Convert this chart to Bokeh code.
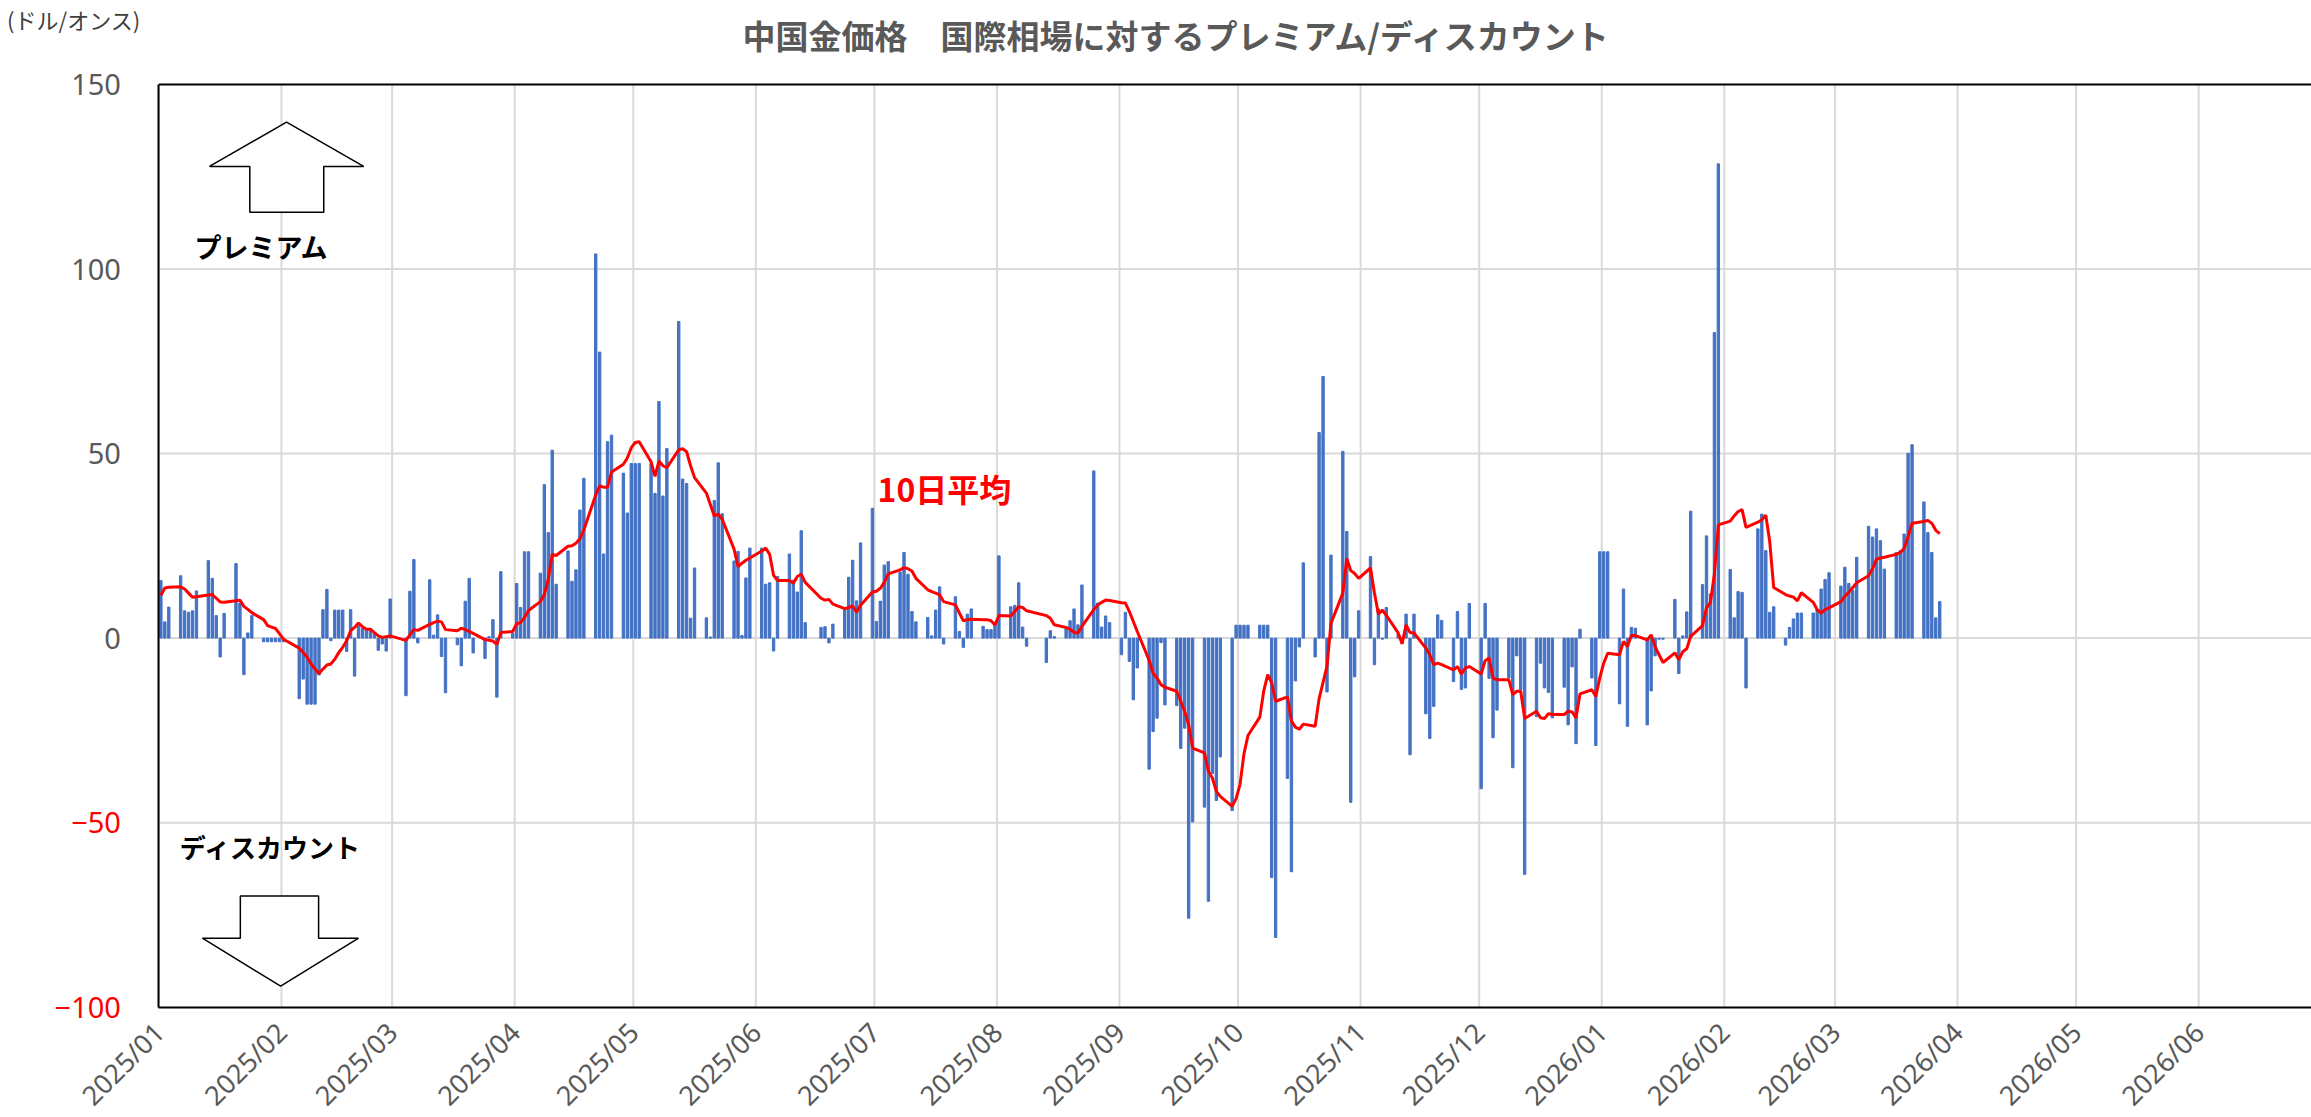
import math
import pandas as pd
from bokeh.plotting import figure
from bokeh.models import (Range1d, FixedTicker, DatetimeTickFormatter, LinearAxis, DatetimeAxis,
                          Label, ColumnDataSource, Grid)
from bokeh.embed import file_html
from bokeh.resources import INLINE

# ---------------- data (USD/oz premium of Shanghai gold vs international price) -------------
jan25_days = [1, 2, 3, 6, 7, 8, 9, 10, 13, 14, 15, 16, 17, 20, 21, 22, 23, 24, 27, 28, 29, 30, 31]
jan25_prem = [15.6, 4.4, 8.4, 16.9, 7.4, 7.0, 7.4, 12.8, 21.0, 16.2, 6.1, -5.1, 6.7, 20.2, 9.5, -9.9, 1.4, 6.1, -1, -1, -1, -1, -1]
jan25_ma = [11.6, 13.6, 13.8, 13.9, 13.3, 12.2, 11.1, 11.2, 11.7, 11.8, 10.8, 9.8, 9.7, 10.1, 10.3, 8.6, 7.8, 6.9, 5.0, 3.4, 3.0, 2.6, 1.2]

feb25_days = [1, 5, 6, 7, 8, 9, 10, 11, 12, 13, 14, 15, 16, 17, 18, 19, 20, 21, 22, 23, 24, 25, 26, 27, 28]
feb25_prem = [-1, -16.4, -11.1, -17.9, -17.9, -17.9, -10.0, 7.7, 13.2, -0.7, 7.6, 7.6, 7.6, -3.6, 7.7, -10.3, 3.3, 2.6, 2.6, 2.6, 1.3, -3.3, -1.6, -3.5, 10.6]
feb25_ma = [-0.3, -2.7, -3.9, -5.2, -7.0, -8.4, -9.6, -8.4, -7.3, -7.0, -5.7, -3.9, -2.5, -0.7, 2.0, 2.9, 4.1, 3.1, 2.4, 2.4, 1.5, 0.6, 0.2, 0.4, 0.6]

mar25_days = [4, 5, 6, 7, 10, 11, 12, 13, 14, 17, 18, 19, 20, 21, 24, 25, 26, 27, 28, 31]
mar25_prem = [-15.6, 12.7, 21.3, -1.3, 15.8, 0.8, 6.3, -5.0, -14.8, -1.8, -7.5, 10.0, 16.2, -4.0, -5.5, 0.4, 5.0, -16.0, 18.0, 1.3]
mar25_ma = [-0.6, 0.9, 2.3, 2.1, 3.7, 4.2, 4.6, 4.4, 2.3, 2.0, 2.7, 2.3, 1.8, 1.3, -0.4, -0.6, -0.8, -1.7, 1.5, 1.8]

apr25_days = [1, 2, 3, 4, 7, 8, 9, 10, 11, 14, 15, 16, 17, 18, 21, 22, 23, 24, 25, 28, 29, 30]
apr25_prem = [14.8, 8.3, 23.4, 23.4, 17.6, 41.6, 28.6, 50.9, 14.6, 23.6, 15.4, 18.5, 34.7, 43.3, 104.1, 77.5, 22.8, 53.2, 55.0, 44.7, 33.9, 47.3]
apr25_ma = [3.9, 4.2, 5.6, 7.5, 9.9, 11.8, 16.0, 22.7, 22.4, 24.9, 25.0, 25.7, 26.9, 29.3, 38.8, 41.2, 40.9, 40.9, 45.0, 47.1, 48.8, 51.6]

may25_days = [1, 2, 5, 6, 7, 8, 9, 12, 13, 14, 15, 16, 19, 20, 21, 22, 23, 26, 27, 28, 29, 30]
may25_prem = [47.3, 47.3, 47.3, 39.2, 64.1, 38.5, 51.4, 85.8, 43.1, 41.9, 5.4, 19.0, 5.5, 0.3, 37.3, 47.5, 33.7, 20.9, 23.5, 0.7, 16.3, 24.4]
may25_ma = [53.0, 53.2, 47.8, 43.8, 48.0, 46.7, 46.2, 51.0, 51.3, 50.5, 46.7, 43.5, 39.3, 36.2, 33.1, 33.6, 32.2, 24.1, 19.4, 20.3, 21.1, 21.7]

jun25_days = [2, 3, 4, 5, 6, 9, 10, 11, 12, 13, 17, 18, 19, 20, 23, 24, 25, 26, 27, 30]
jun25_prem = [24.4, 14.6, 15.0, -3.5, 16.7, 22.8, 15.7, 12.5, 29.1, 4.2, 2.9, 3.1, -1.3, 3.8, 8.0, 16.5, 21.1, 10.1, 25.8, 35.2]
jun25_ma = [23.6, 24.4, 22.7, 17.0, 15.6, 15.6, 14.9, 16.7, 17.3, 15.1, 10.8, 10.3, 10.5, 9.2, 8.0, 8.3, 8.7, 7.0, 8.9, 12.5]

jul25_days = [1, 2, 3, 4, 7, 8, 9, 10, 11, 14, 15, 16, 17, 18, 21, 22, 23, 24, 25, 28, 29, 30, 31]
jul25_prem = [4.5, 10.0, 19.8, 20.7, 17.9, 23.2, 17.3, 7.2, 4.4, 5.6, 0.6, 7.6, 13.9, -1.6, 11.2, 1.8, -2.5, 6.5, 7.9, 3.2, 2.3, 2.3, 3.8]
jul25_ma = [12.7, 13.5, 15.1, 17.4, 18.5, 19.1, 18.8, 18.2, 16.2, 13.1, 12.6, 12.2, 11.7, 9.9, 9.0, 6.8, 4.7, 5.0, 5.1, 5.0, 5.0, 4.7, 3.6]

aug25_days = [1, 4, 5, 6, 7, 8, 13, 14, 15, 18, 19, 20, 21, 22, 25, 26, 27, 28, 29]
aug25_prem = [22.3, 8.5, 8.9, 15.0, 3.0, -2.2, -6.6, 2.0, 0.4, 2.7, 4.7, 7.9, 3.6, 14.4, 45.3, 9.5, 3.0, 6.0, 4.2]
aug25_ma = [6.1, 6.0, 7.2, 8.5, 8.3, 7.4, 6.1, 5.4, 3.6, 2.9, 2.4, 1.6, 1.4, 3.2, 7.7, 9.0, 9.7, 10.3, 10.2]

sep25_days = [1, 2, 3, 4, 5, 8, 9, 10, 11, 12, 15, 16, 17, 18, 19, 22, 23, 24, 25, 26, 29, 30]
sep25_prem = [-4.5, 7.0, -6.3, -16.7, -8.1, -35.5, -25.3, -21.7, -1.2, -18.1, -18.3, -29.9, -24.4, -75.9, -49.8, -45.8, -71.3, -36.7, -44.0, -32.2, -46.7, 3.5]
sep25_ma = [9.6, 9.5, 7.2, 4.5, 1.8, -6.0, -9.5, -10.8, -12.6, -13.3, -14.4, -17.1, -19.9, -23.5, -29.8, -31.1, -36.1, -37.9, -41.5, -42.9, -45.6, -43.5]

oct25_days = [1, 2, 3, 6, 7, 8, 9, 10, 13, 14, 15, 16, 17, 20, 21, 22, 23, 24, 27, 28, 29, 30, 31]
oct25_prem = [3.5, 3.5, 3.5, 3.5, 3.5, 3.5, -64.9, -81.1, -38.0, -63.3, -11.6, -2.4, 20.4, -5.1, 55.7, 70.9, -14.6, 22.5, 50.6, 28.9, -44.5, -10.5, 7.4]
oct25_ma = [-39.6, -31.3, -26.4, -21.4, -14.3, -9.9, -12.1, -17.1, -15.9, -22.5, -24.1, -24.7, -23.3, -23.9, -16.4, -12.0, -7.6, 4.0, 12.2, 21.6, 18.3, 17.5, 16.2]

nov25_days = [3, 4, 5, 6, 7, 10, 11, 12, 13, 14, 17, 18, 19, 20, 21, 24, 25, 26, 27, 28]
nov25_prem = [22.1, -7.2, 7.9, -0.3, 8.3, 1.2, -1.5, 6.5, -31.6, 6.5, -20.5, -27.2, -18.5, 6.3, 4.8, -11.8, 7.2, -13.9, -13.5, 9.4]
nov25_ma = [19.0, 12.2, 6.5, 7.6, 6.2, 1.4, -1.5, 3.6, 1.5, 1.4, -2.7, -4.5, -7.2, -6.8, -7.2, -8.6, -7.7, -9.7, -8.1, -7.7]

dec25_days = [1, 2, 3, 4, 5, 8, 9, 10, 11, 12, 15, 16, 17, 18, 19, 22, 23, 24, 25, 26, 29, 30, 31]
dec25_prem = [-40.8, 9.4, -10.9, -27.0, -19.5, -10.8, -35.1, -4.8, -14.0, -64.0, -21.3, -6.8, -13.5, -14.7, -21.6, -13.3, -23.5, -7.8, -28.6, 2.4, -10.8, -29.1, 23.4]
dec25_ma = [-9.7, -6.1, -5.4, -10.8, -11.3, -11.3, -15.3, -14.4, -14.4, -21.8, -19.8, -21.6, -21.8, -20.5, -20.7, -20.7, -19.8, -20.0, -21.6, -15.1, -14.0, -15.8, -10.8]

jan26_days = [1, 2, 5, 6, 7, 8, 9, 12, 13, 14, 15, 16, 19, 20, 21, 22, 23, 26, 27, 28, 29, 30]
jan26_prem = [23.4, 23.4, -17.8, 13.3, -23.9, 2.9, 2.7, -23.5, -14.3, -4.8, -0.3, -0.3, 10.5, -9.6, 0.6, 7.1, 34.4, 14.5, 27.7, 12.0, 82.8, 128.5]
jan26_ma = [-6.8, -4.1, -4.5, -0.9, -2.3, 0.7, 0.7, -0.5, 0.9, -2.3, -4.5, -6.6, -4.0, -5.8, -3.7, -2.9, 0.5, 3.4, 8.2, 9.7, 17.4, 30.7]

feb26_days = [2, 3, 4, 5, 6, 9, 10, 11, 12, 13, 16, 17, 18, 19, 20, 23, 24, 25, 26, 27]
feb26_prem = [18.6, 5.5, 12.6, 12.4, -13.5, 29.6, 33.6, 23.7, 7.0, 8.5, -1.9, 2.9, 5.2, 6.8, 6.8, 6.8, 7.7, 13.3, 15.9, 17.7]
feb26_ma = [31.7, 33.1, 34.3, 34.8, 30.0, 31.4, 32.1, 33.3, 26.1, 13.7, 11.8, 11.4, 11.1, 10.1, 12.3, 9.7, 7.7, 6.8, 7.7, 8.2]

mar26_days = [2, 3, 4, 5, 6, 9, 10, 11, 12, 13, 16, 17, 18, 19, 20, 23, 24, 25, 26, 27]
mar26_prem = [14.1, 19.2, 14.8, 13.0, 21.9, 30.3, 27.4, 29.6, 26.4, 18.7, 23.2, 23.7, 28.2, 50.1, 52.4, 36.9, 28.6, 23.2, 5.5, 9.9]
mar26_ma = [9.9, 11.4, 12.4, 13.7, 15.0, 16.9, 18.8, 21.4, 21.7, 21.9, 22.7, 23.2, 24.3, 27.5, 31.1, 31.6, 31.9, 31.1, 29.2, 28.3]

month_labels = ["2025/01", "2025/02", "2025/03", "2025/04", "2025/05", "2025/06",
                "2025/07", "2025/08", "2025/09", "2025/10", "2025/11", "2025/12",
                "2026/01", "2026/02", "2026/03", "2026/04", "2026/05", "2026/06"]
y_ticks_pos = [0, 50, 100, 150]
y_ticks_neg = [-50, -100]
y_min, y_max = -100, 150

title_text = "中国金価格　国際相場に対するプレミアム/ディスカウント"
unit_text = "(ドル/オンス)"
premium_text = "プレミアム"
discount_text = "ディスカウント"
ma_text = "10日平均"

# ---------------- assemble -------------
months = [
    (2025, 1, jan25_days, jan25_prem, jan25_ma), (2025, 2, feb25_days, feb25_prem, feb25_ma),
    (2025, 3, mar25_days, mar25_prem, mar25_ma), (2025, 4, apr25_days, apr25_prem, apr25_ma),
    (2025, 5, may25_days, may25_prem, may25_ma), (2025, 6, jun25_days, jun25_prem, jun25_ma),
    (2025, 7, jul25_days, jul25_prem, jul25_ma), (2025, 8, aug25_days, aug25_prem, aug25_ma),
    (2025, 9, sep25_days, sep25_prem, sep25_ma), (2025, 10, oct25_days, oct25_prem, oct25_ma),
    (2025, 11, nov25_days, nov25_prem, nov25_ma), (2025, 12, dec25_days, dec25_prem, dec25_ma),
    (2026, 1, jan26_days, jan26_prem, jan26_ma), (2026, 2, feb26_days, feb26_prem, feb26_ma),
    (2026, 3, mar26_days, mar26_prem, mar26_ma),
]
xs, prem, ma = [], [], []
for yr, mo, days, pv, mv in months:
    assert len(days) == len(pv) == len(mv), (yr, mo)
    for d, a, b in zip(days, pv, mv):
        xs.append(pd.Timestamp(yr, mo, d) + pd.Timedelta(hours=12))
        prem.append(a)
        ma.append(b)
src = ColumnDataSource(dict(x=xs, prem=prem, ma=ma))

DAY = 86400000.0
t0_ms = pd.Timestamp("2025-01-01").value / 1e6
month_ticks = [t.value / 1e6 for t in pd.date_range("2025-01-01", periods=len(month_labels), freq="MS")]

# ---------------- page geometry (pixels) -------------
W, H = 2311, 1117
FRAME_L, FRAME_T, FRAME_B = 158.4, 84.0, 1006.7     # plot-area edges on the page
PX_PER_DAY = 3.953
PX_PER_UNIT = (FRAME_B - FRAME_T) / (y_max - y_min)

x_lo = t0_ms - FRAME_L / PX_PER_DAY * DAY
x_hi = t0_ms + (W - FRAME_L) / PX_PER_DAY * DAY
y_hi = y_max + FRAME_T / PX_PER_UNIT
y_lo = y_min - (H - FRAME_B) / PX_PER_UNIT

p = figure(width=W, height=H, x_axis_type="datetime", x_axis_location=None, y_axis_location=None,
           x_range=Range1d(x_lo, x_hi), y_range=Range1d(y_lo, y_hi),
           output_backend="svg", toolbar_location=None, min_border=0)
p.min_border_left = p.min_border_right = p.min_border_top = p.min_border_bottom = 0
p.outline_line_color = None
p.background_fill_color = "white"
p.border_fill_color = "white"
for r in list(p.center):
    if isinstance(r, Grid):
        r.visible = False

GRID = "#d9d9d9"
TICKFONT = "Noto Sans"
LABCOL = "#595959"
JP = "Noto Sans CJK JP"

# gridlines restricted to the plot area
gy = [v for v in y_ticks_pos + y_ticks_neg if y_min < v < y_max]
p.segment(x0=[t0_ms] * len(gy), x1=[x_hi] * len(gy), y0=gy, y1=gy, line_color=GRID, line_width=2)
p.segment(x0=month_ticks, x1=month_ticks, y0=[y_min] * len(month_ticks), y1=[y_max] * len(month_ticks),
          line_color=GRID, line_width=2)

# bars and moving average
p.vbar(x="x", top="prem", bottom=0, width=0.6 * DAY, color="#4472C4", source=src)
p.line(x="x", y="ma", color="#FF0000", line_width=3, source=src)

# top frame line
p.segment(x0=[t0_ms], x1=[x_hi], y0=[y_max], y1=[y_max], line_color="black", line_width=2)

# axes (drawn at fixed locations inside the full-page frame)
fmt = "%Y/%m"
xa = DatetimeAxis(fixed_location=y_min, bounds=(t0_ms, x_hi),
                  ticker=FixedTicker(ticks=month_ticks),
                  formatter=DatetimeTickFormatter(milliseconds=fmt, seconds=fmt, minsec=fmt, minutes=fmt,
                                                  hourmin=fmt, hours=fmt, days=fmt, months=fmt, years=fmt))
xa.major_label_orientation = math.pi / 4
xa.major_label_text_font = TICKFONT
xa.major_label_text_font_size = "27px"
xa.major_label_text_color = LABCOL
xa.major_label_standoff = 20
xa.major_tick_line_color = None
xa.minor_tick_line_color = None
xa.major_tick_out = 0
xa.major_tick_in = 0
xa.axis_line_color = "black"
xa.axis_line_width = 2
p.add_layout(xa, "below")

def y_axis(ticks, color, line):
    ax = LinearAxis(fixed_location=t0_ms, bounds=(y_min, y_max), ticker=FixedTicker(ticks=ticks))
    ax.major_label_text_font = TICKFONT
    ax.major_label_text_font_size = "29px"
    ax.major_label_text_color = color
    ax.major_label_standoff = 38
    ax.major_tick_line_color = None
    ax.minor_tick_line_color = None
    ax.major_tick_out = 0
    ax.major_tick_in = 0
    ax.axis_line_color = "black" if line else None
    ax.axis_line_width = 2
    return ax

p.add_layout(y_axis(y_ticks_pos, LABCOL, True), "left")
p.add_layout(y_axis(y_ticks_neg, "#FF0000", False), "left")

# decorative arrows (shape defined in day / value units)
def dms(d):
    return t0_ms + d * DAY

up_x = [32.3, 51.8, 41.7, 41.7, 23.0, 23.0, 12.8]
up_y = [139.8, 127.8, 127.8, 115.4, 115.4, 127.8, 127.8]
dn_x = [20.6, 40.4, 40.4, 50.5, 30.8, 11.0, 20.6]
dn_y = [-69.9, -69.9, -81.3, -81.3, -94.3, -81.3, -81.3]
p.patch([dms(d) for d in up_x], up_y, fill_color="white", line_color="black", line_width=1.5)
p.patch([dms(d) for d in dn_x], dn_y, fill_color="white", line_color="black", line_width=1.5)

p.add_layout(Label(x=dms(9.0), y=106.2, text=premium_text, text_align="left", text_baseline="middle",
                   text_font=JP, text_font_style="bold", text_font_size="27px", text_color="black"))
p.add_layout(Label(x=dms(5.3), y=-56.5, text=discount_text, text_align="left", text_baseline="middle",
                   text_font=JP, text_font_style="bold", text_font_size="26px", text_color="black"))
p.add_layout(Label(x=dms(181.8), y=40.8, text=ma_text, text_align="left", text_baseline="middle",
                   text_font=JP, text_font_style="bold", text_font_size="32px", text_color="#FF0000"))

# title and unit above the plot area
p.add_layout(Label(x=dms(257.8), y=163.3, text=title_text, text_align="center",
                   text_baseline="middle", text_font=JP, text_font_style="bold",
                   text_font_size="33px", text_color="#595959"))
p.add_layout(Label(x=dms(-38.4), y=167.8, text=unit_text, text_align="left",
                   text_baseline="middle", text_font=JP, text_font_size="22px", text_color="#404040"))

open("out.html", "w").write(file_html(p, INLINE))
